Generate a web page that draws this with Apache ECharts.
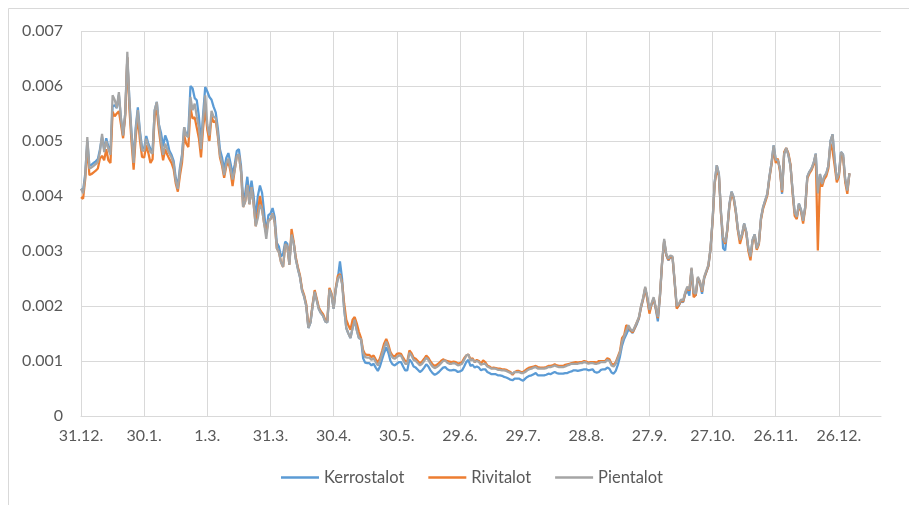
<!DOCTYPE html>
<html>
<head>
<meta charset="utf-8">
<script src="https://cdn.jsdelivr.net/npm/echarts@6/dist/echarts.min.js"></script>
<style>
html,body{margin:0;padding:0;background:#fff;}
#chart{width:909px;height:505px;}
</style>
</head>
<body>
<div id="chart"></div>
<script>
// X-axis tick labels (one every 30 days, starting 31.12.)
const tickLabels = ['31.12.','30.1.','1.3.','31.3.','30.4.','30.5.','29.6.','29.7.','28.8.','27.9.','27.10.','26.11.','26.12.'];
const tickStep = 30;
const axisDays = 380; // axis extends past the last tick
const yTicks = [0, 0.007, 0.001]; // min, max, interval
const seriesNames = ['Kerrostalot', 'Rivitalot', 'Pientalot'];

// Daily values, in thousandths (x 0.001)
const kerrostalot = [
4.13,4.10,4.40,5.00,4.55,4.57,4.60,4.63,4.67,4.85,5.08,4.85,5.05,4.90,4.80,5.63,5.65,5.60,5.84,5.40,
5.10,5.50,6.52,5.75,5.15,4.65,5.25,5.61,5.18,4.88,4.87,5.09,4.95,4.85,4.82,5.56,5.71,5.30,5.15,4.90,
5.10,5.00,4.82,4.75,4.64,4.33,4.18,4.52,4.76,5.25,5.10,5.17,6.00,5.96,5.78,5.74,5.45,4.95,5.48,5.98,
5.90,5.80,5.75,5.62,5.52,5.23,4.85,4.70,4.48,4.69,4.78,4.60,4.40,4.57,4.82,4.85,4.55,3.95,4.05,4.35,
4.00,4.28,4.00,3.60,4.00,4.19,4.06,3.70,3.32,3.65,3.68,3.78,3.62,3.15,3.08,2.90,2.95,3.17,3.13,2.80,
3.30,3.15,2.86,2.68,2.53,2.28,2.17,2.00,1.60,1.70,2.00,2.26,2.10,1.94,1.87,1.82,1.72,1.70,2.30,2.20,
1.95,2.30,2.50,2.81,2.50,1.95,1.60,1.50,1.42,1.60,1.75,1.56,1.42,1.40,1.05,0.97,0.96,0.96,0.92,0.95,
0.88,0.82,0.90,1.03,1.15,1.25,1.15,1.00,0.94,0.92,0.95,0.98,0.98,0.90,0.83,0.83,1.03,0.98,0.90,0.88,
0.84,0.80,0.83,0.88,0.94,0.90,0.83,0.78,0.75,0.77,0.80,0.84,0.88,0.89,0.85,0.83,0.83,0.84,0.83,0.80,
0.81,0.83,0.90,0.98,1.02,0.91,0.93,0.88,0.90,0.88,0.83,0.85,0.85,0.80,0.78,0.76,0.76,0.76,0.74,0.74,
0.73,0.71,0.70,0.68,0.66,0.65,0.68,0.68,0.68,0.66,0.64,0.68,0.71,0.73,0.74,0.76,0.78,0.74,0.74,0.74,
0.74,0.75,0.77,0.76,0.78,0.80,0.78,0.77,0.77,0.77,0.78,0.78,0.80,0.81,0.83,0.83,0.82,0.83,0.84,0.85,
0.85,0.83,0.84,0.85,0.80,0.79,0.80,0.84,0.85,0.85,0.88,0.86,0.79,0.77,0.82,0.93,1.08,1.28,1.40,1.48,
1.57,1.55,1.51,1.59,1.67,1.77,1.97,2.12,2.32,2.14,1.90,2.02,2.13,1.95,1.72,2.17,2.77,3.19,2.92,2.83,
2.89,2.87,2.42,1.97,2.01,2.09,2.07,2.22,2.28,2.19,2.67,2.22,2.19,2.50,2.42,2.22,2.50,2.61,2.72,3.02,
3.56,4.25,4.56,4.40,3.70,3.05,3.01,3.40,3.85,4.08,3.98,3.74,3.40,3.20,3.30,3.50,3.35,3.05,2.90,3.20,
3.30,3.05,3.15,3.60,3.80,3.92,4.04,4.35,4.60,4.92,4.66,4.65,4.50,4.04,4.77,4.87,4.75,4.55,4.10,3.70,
3.62,3.86,3.75,3.55,3.80,4.35,4.44,4.50,4.60,4.77,4.05,4.40,4.22,4.35,4.41,4.55,5.00,5.12,4.65,4.30,
4.40,4.80,4.75,4.30,4.10,4.41
];
const rivitalot = [
3.98,3.95,4.30,4.92,4.38,4.40,4.43,4.46,4.50,4.68,4.73,4.65,4.85,4.65,4.60,5.53,5.45,5.50,5.54,5.30,
5.05,5.45,6.52,5.58,4.98,4.48,5.08,5.44,5.01,4.71,4.70,4.92,4.78,4.60,4.67,5.46,5.56,5.20,4.90,4.65,
4.85,4.75,4.67,4.60,4.49,4.23,4.08,4.37,4.61,5.10,4.95,4.89,5.60,5.41,5.43,5.24,5.05,4.70,5.23,5.58,
5.20,5.00,5.45,5.34,5.37,5.08,4.70,4.55,4.33,4.54,4.63,4.45,4.18,4.47,4.72,4.75,4.45,3.80,3.90,4.20,
3.85,4.16,3.85,3.45,3.70,4.00,3.76,3.50,3.32,3.55,3.58,3.68,3.52,3.05,2.98,2.80,2.71,3.12,3.08,2.75,
3.40,3.18,2.89,2.71,2.56,2.31,2.20,2.03,1.63,1.73,2.03,2.29,2.13,1.97,1.90,1.85,1.75,1.73,2.33,2.23,
1.98,2.33,2.55,2.58,2.43,2.05,1.75,1.65,1.57,1.75,1.80,1.68,1.53,1.42,1.20,1.12,1.11,1.11,1.07,1.10,
1.03,0.97,1.05,1.18,1.32,1.40,1.30,1.16,1.10,1.08,1.13,1.14,1.13,1.06,1.00,0.99,1.19,1.14,1.06,1.04,
1.00,0.96,0.99,1.04,1.10,1.06,0.99,0.94,0.91,0.93,0.96,1.00,1.03,1.01,1.00,0.99,0.98,0.99,0.98,0.95,
0.96,0.98,1.05,1.10,1.12,1.03,1.05,0.98,1.02,1.00,0.95,1.01,0.98,0.92,0.90,0.87,0.88,0.87,0.86,0.86,
0.85,0.85,0.84,0.82,0.80,0.75,0.80,0.82,0.82,0.80,0.80,0.83,0.86,0.88,0.89,0.90,0.91,0.89,0.88,0.88,
0.88,0.89,0.91,0.91,0.92,0.94,0.92,0.91,0.91,0.91,0.93,0.94,0.95,0.96,0.97,0.98,0.97,0.98,0.98,1.00,
0.99,0.97,0.98,0.98,0.98,0.97,1.00,1.00,1.00,1.00,1.05,1.03,0.95,0.93,0.98,1.08,1.18,1.42,1.47,1.65,
1.62,1.56,1.52,1.60,1.70,1.78,1.98,2.13,2.33,2.12,1.86,2.03,2.14,1.96,1.78,2.18,2.78,3.18,2.93,2.84,
2.90,2.88,2.43,1.95,2.02,2.10,2.08,2.23,2.33,2.28,2.68,2.16,2.20,2.51,2.43,2.26,2.51,2.62,2.73,3.03,
3.53,4.22,4.48,4.37,3.67,3.22,3.13,3.37,3.82,4.05,3.95,3.71,3.37,3.13,3.27,3.47,3.32,3.00,2.83,3.17,
3.27,3.02,3.12,3.57,3.77,3.89,4.01,4.32,4.57,4.85,4.60,4.68,4.45,4.07,4.80,4.87,4.78,4.58,4.05,3.64,
3.58,3.83,3.72,3.50,3.77,4.32,4.41,4.47,4.57,4.74,3.01,4.30,4.17,4.30,4.36,4.50,4.95,4.82,4.55,4.25,
4.35,4.75,4.70,4.25,4.04,4.41
];
const pientalot = [
4.13,4.05,4.35,5.07,4.50,4.52,4.55,4.58,4.62,4.80,5.13,4.80,5.00,4.85,4.75,5.83,5.75,5.60,5.89,5.40,
5.10,5.50,6.62,5.70,5.10,4.60,5.20,5.56,5.13,4.83,4.82,5.04,4.90,4.80,4.77,5.56,5.71,5.30,5.00,4.75,
4.95,4.85,4.77,4.70,4.59,4.28,4.13,4.47,4.71,5.25,5.10,5.07,5.80,5.56,5.68,5.44,5.25,4.85,5.38,5.83,
5.30,5.10,5.55,5.44,5.42,5.13,4.75,4.60,4.38,4.59,4.68,4.50,4.30,4.47,4.72,4.75,4.45,3.80,3.90,4.20,
3.85,4.16,3.85,3.45,3.60,3.84,3.76,3.50,3.22,3.55,3.58,3.68,3.52,3.05,2.98,2.80,2.71,3.12,3.08,2.75,
3.30,3.15,2.86,2.68,2.53,2.28,2.17,2.00,1.60,1.70,2.00,2.26,2.10,1.94,1.87,1.82,1.72,1.70,2.30,2.20,
1.95,2.30,2.50,2.56,2.40,1.95,1.60,1.50,1.42,1.60,1.75,1.56,1.42,1.40,1.15,1.07,1.06,1.06,1.02,1.05,
0.98,0.92,1.00,1.13,1.25,1.35,1.25,1.12,1.06,1.04,1.07,1.10,1.10,1.02,0.95,0.95,1.15,1.10,1.02,1.00,
0.96,0.92,0.95,1.00,1.06,1.02,0.95,0.90,0.87,0.89,0.92,0.96,1.00,1.01,0.97,0.95,0.95,0.96,0.95,0.92,
0.93,0.95,1.02,1.10,1.12,1.01,1.03,0.98,1.00,0.98,0.93,0.95,0.95,0.90,0.88,0.86,0.86,0.86,0.84,0.84,
0.83,0.83,0.82,0.80,0.78,0.77,0.80,0.80,0.80,0.78,0.78,0.80,0.83,0.85,0.86,0.88,0.89,0.86,0.86,0.86,
0.86,0.87,0.89,0.89,0.90,0.92,0.90,0.89,0.89,0.89,0.90,0.92,0.93,0.95,0.95,0.95,0.95,0.96,0.96,0.98,
0.97,0.95,0.96,0.96,0.95,0.95,0.96,0.98,0.98,0.98,1.02,1.00,0.92,0.90,0.95,1.05,1.15,1.35,1.45,1.55,
1.65,1.58,1.54,1.62,1.70,1.80,2.00,2.15,2.35,2.17,1.93,2.05,2.16,1.98,1.80,2.20,2.80,3.22,2.95,2.86,
2.92,2.90,2.45,2.00,2.04,2.12,2.10,2.25,2.35,2.30,2.70,2.25,2.22,2.53,2.45,2.28,2.53,2.64,2.75,3.05,
3.56,4.25,4.56,4.40,3.70,3.25,3.16,3.40,3.85,4.08,3.98,3.74,3.40,3.20,3.30,3.50,3.35,3.05,2.90,3.20,
3.30,3.05,3.15,3.60,3.80,3.92,4.04,4.35,4.60,4.92,4.66,4.65,4.50,4.10,4.77,4.87,4.75,4.55,4.10,3.70,
3.62,3.86,3.75,3.55,3.80,4.35,4.44,4.50,4.60,4.77,4.05,4.40,4.22,4.35,4.41,4.55,5.00,5.12,4.65,4.30,
4.40,4.80,4.75,4.30,4.10,4.41
];
const valueUnit = 0.001;

const categories = [];
for (let i = 0; i <= axisDays; i++) categories.push(i);
const isTick = (i) => i % tickStep === 0;

const colors = ['#5B9BD5', '#ED7D31', '#A5A5A5'];
const seriesData = [kerrostalot, rivitalot, pientalot];
const font = 'Lato, "Open Sans", sans-serif';

const chart = echarts.init(document.getElementById('chart'), null, {renderer: 'canvas'});
chart.setOption({
  animation: false,
  backgroundColor: '#ffffff',
  color: colors,
  graphic: [{
    type: 'rect', silent: true, z: -1,
    shape: {x: 8.5, y: 8.5, width: 1000, height: 1000},
    style: {fill: 'none', stroke: '#d9d9d9', lineWidth: 1}
  }],
  grid: {left: 81, right: 28, top: 31, bottom: 89, containLabel: false},
  legend: {
    data: seriesNames,
    bottom: 14,
    left: 276,
    icon: 'rect',
    itemWidth: 38,
    itemHeight: 2.5,
    itemGap: 24,
    textStyle: {fontFamily: font, fontSize: 16.5, color: '#595959', padding: [0, 0, 0, 0]}
  },
  xAxis: {
    type: 'category',
    data: categories,
    boundaryGap: false,
    axisLine: {show: true, lineStyle: {color: '#d9d9d9', width: 1}},
    axisTick: {show: false},
    axisLabel: {
      interval: (i) => isTick(i),
      formatter: (v, i) => isTick(i) ? (tickLabels[i / tickStep] || '') : '',
      fontFamily: font, fontSize: 16, color: '#595959', margin: 12
    },
    splitLine: {show: true, interval: (i) => isTick(i), lineStyle: {color: '#d9d9d9', width: 1}}
  },
  yAxis: {
    type: 'value',
    min: yTicks[0], max: yTicks[1], interval: yTicks[2],
    axisLine: {show: false},
    axisTick: {show: false},
    axisLabel: {
      formatter: (v) => v === 0 ? '0' : v.toFixed(3),
      fontFamily: font, fontSize: 16, color: '#595959', margin: 18
    },
    splitLine: {show: true, lineStyle: {color: '#d9d9d9', width: 1}}
  },
  series: seriesNames.map((name, k) => ({
    name: name,
    type: 'line',
    data: seriesData[k].map(v => +(v * valueUnit).toFixed(6)),
    symbol: 'none',
    showSymbol: false,
    lineStyle: {width: 2.25, color: colors[k]},
    itemStyle: {color: colors[k]},
    emphasis: {disabled: true}
  }))
});
</script>
</body>
</html>
